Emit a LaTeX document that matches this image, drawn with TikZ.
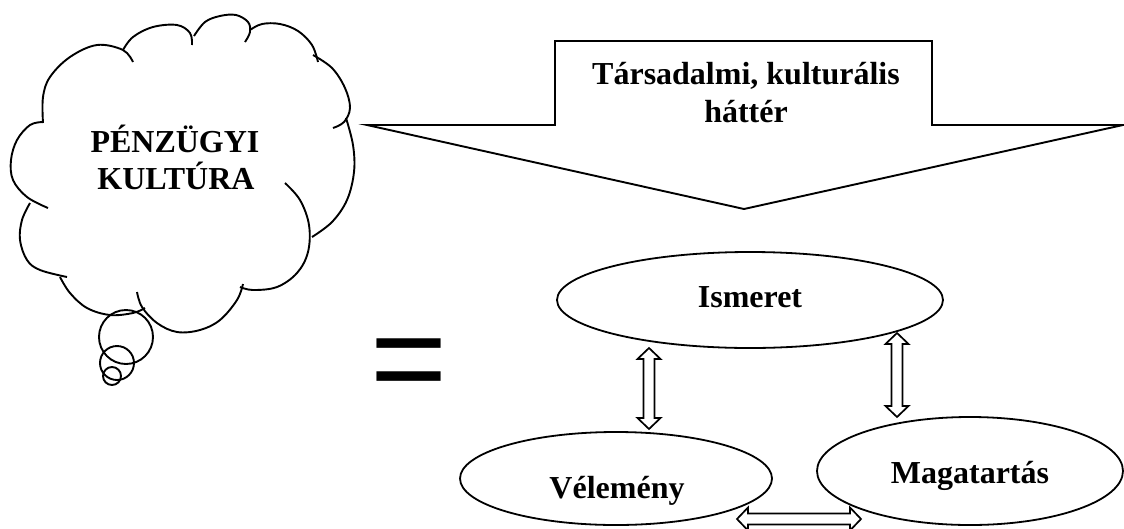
\documentclass[tikz,border=0pt]{standalone}
\usepackage{fontspec}
\setmainfont{Liberation Serif}
\newfontfamily\eqfont{Liberation Sans}
\usetikzlibrary{shapes.geometric}
\begin{document}
\begin{tikzpicture}[x=1pt,y=-1pt,line join=round,
  ln/.style={line width=1.9pt},
  lbl/.style={font=\fontsize{32}{37}\selectfont\bfseries, inner sep=0pt, anchor=base},
  oval/.style={draw, ellipse, line width=1.8pt, fill=white, inner sep=0pt},
  blk/.style={draw, line width=1.7pt, fill=white, line join=miter}]
\useasboundingbox (0,0) rectangle (1124,528);
\clip (0,0) rectangle (1124,528);

% thought cloud
\draw[ln] plot[smooth,tension=0.6] coordinates {(43,123) (43,97) (50,77) (70,57) (97,45) (123,50) (133,62)};
\draw[ln] plot[smooth,tension=0.6] coordinates {(123,50) (133,37) (153,27) (177,25) (190,33) (192,45)};
\draw[ln] plot[smooth,tension=0.6] coordinates {(194,36) (205,22) (220,16) (236,15) (248,22) (250,32) (245,42)};
\draw[ln] plot[smooth,tension=0.6] coordinates {(250,30) (262,24) (280,24) (298,31) (312,45) (318,62)};
\draw[ln] plot[smooth,tension=0.6] coordinates {(313,55) (332,68) (345,88) (350,108) (344,122) (333,128)};
\draw[ln] plot[smooth,tension=0.6] coordinates {(346,118) (353,145) (354,172) (347,200) (332,222) (312,237)};
\draw[ln] plot[smooth,tension=0.6] coordinates {(285,183) (300,200) (309,225) (308,252) (297,273) (277,287) (253,290) (240,287)};
\draw[ln] plot[smooth,tension=0.6] coordinates {(137,292) (142,307) (157,323) (177,332) (200,330) (220,320) (237,300) (243,284)};
\draw[ln] plot[smooth,tension=0.6] coordinates {(60,277) (70,293) (87,308) (110,315) (133,313) (145,308)};
\draw[ln] plot[smooth,tension=0.6] coordinates {(30,203) (22,220) (20,240) (27,260) (40,270) (67,277)};
\draw[ln] plot[smooth,tension=0.6] coordinates {(43,122) (30,125) (17,140) (11,160) (13,180) (27,197) (48,208)};
\draw[ln] (126,337) circle (27);
\draw[ln] (117,363) circle (17);
\draw[ln] (112,376) circle (9);
\node[lbl] (p1) at (175,152) {PÉNZÜGYI};
\node[lbl] (p2) at (176,189) {KULTÚRA};

% equals sign
\node[font=\eqfont\fontsize{132}{132}\selectfont, inner sep=0pt, anchor=base] (eq) at (409.5,403) {=};

% callout
\draw[ln, line join=miter] (367,125) -- (555,125) -- (555,41) -- (932,41) -- (932,125) -- (1123,125) -- (744,209) -- cycle;
\node[lbl] (t1) at (746,84) {Társadalmi, kulturális};
\node[lbl] (t2) at (746,122) {háttér};

% ellipses
\node[oval, minimum width=386pt, minimum height=96pt] (ism) at (750,300) {};
\node[oval, minimum width=312pt, minimum height=93pt] (vel) at (616,478.5) {};
\node[oval, minimum width=306pt, minimum height=108pt] (mag) at (970,471) {};
\node[lbl] (ismt) at (750,307) {Ismeret};
\node[lbl] (velt) at (617,498) {Vélemény};
\node[lbl] (magt) at (970,483) {Magatartás};

% double block arrows
\coordinate (a1t) at (649,348); \coordinate (a1b) at (649,429);
\coordinate (a2t) at (897,333); \coordinate (a2b) at (897,417);
\coordinate (a3l) at (737,519); \coordinate (a3r) at (861,519);
\draw[blk] (a1t) -- ++(11.5,11) -- ++(-6,0) -- ++(0,59) -- ++(6,0) -- (a1b) -- ++(-11.5,-11) -- ++(6,0) -- ++(0,-59) -- ++(-6,0) -- cycle;
\draw[blk] (a2t) -- ++(11.5,11) -- ++(-6,0) -- ++(0,62) -- ++(6,0) -- (a2b) -- ++(-11.5,-11) -- ++(6,0) -- ++(0,-62) -- ++(-6,0) -- cycle;
\draw[blk] (a3l) -- ++(11,-11.5) -- ++(0,6) -- ++(102,0) -- ++(0,-6) -- (a3r) -- ++(-11,11.5) -- ++(0,-6) -- ++(-102,0) -- ++(0,6) -- cycle;
\end{tikzpicture}
\end{document}
